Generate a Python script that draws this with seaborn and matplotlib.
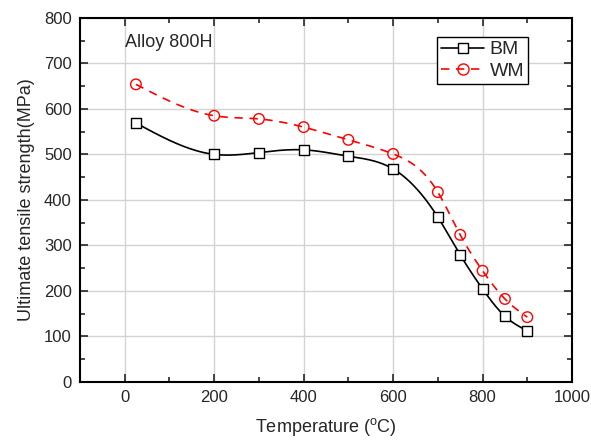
import numpy as np
import pandas as pd
import matplotlib
matplotlib.use('Agg')
import matplotlib.pyplot as plt
from matplotlib.lines import Line2D
from matplotlib.ticker import MultipleLocator
import seaborn as sns

# values
temp = [25, 200, 300, 400, 500, 600, 700, 750, 800, 850, 900]
uts_bm = [569, 500, 504, 510, 496, 468, 362, 279, 204, 144, 112]
uts_wm = [654, 585, 578, 560, 532, 501, 417, 323, 244, 182, 142]


def natural_spline(x, y, n=400):
    # natural cubic spline through the measured points (Origin "spline" connect)
    x = np.asarray(x, float)
    y = np.asarray(y, float)
    h = np.diff(x)
    m = len(x)
    A = np.zeros((m, m))
    r = np.zeros(m)
    A[0, 0] = A[-1, -1] = 1
    for i in range(1, m - 1):
        A[i, i - 1] = h[i - 1]
        A[i, i] = 2 * (h[i - 1] + h[i])
        A[i, i + 1] = h[i]
        r[i] = 6 * ((y[i + 1] - y[i]) / h[i] - (y[i] - y[i - 1]) / h[i - 1])
    M = np.linalg.solve(A, r)
    xs = np.linspace(x[0], x[-1], n)
    k = np.clip(np.searchsorted(x, xs) - 1, 0, m - 2)
    t0 = x[k + 1] - xs
    t1 = xs - x[k]
    hk = h[k]
    ys = (M[k] * t0 ** 3 + M[k + 1] * t1 ** 3) / (6 * hk) \
        + (y[k] / hk - M[k] * hk / 6) * t0 + (y[k + 1] / hk - M[k + 1] * hk / 6) * t1
    return xs, ys


sns.set_style('ticks')
plt.rcParams['font.family'] = ['Liberation Sans', 'DejaVu Sans']
plt.rcParams['mathtext.fontset'] = 'custom'
plt.rcParams['mathtext.rm'] = 'Liberation Sans'

fig = plt.figure(figsize=(5.91, 4.42), dpi=100)
ax = fig.add_axes([0.1354, 0.1364, 0.8325, 0.8229])

xs, ys = natural_spline(temp, uts_bm)
sns.lineplot(x=xs, y=ys, ax=ax, color='black', lw=1.2, sort=False, estimator=None, zorder=3)
xs, ys = natural_spline(temp, uts_wm)
sns.lineplot(x=xs, y=ys, ax=ax, color='red', lw=1.2, sort=False, estimator=None,
             dashes=False, linestyle=(0, (5, 4)), zorder=2)

sns.scatterplot(x=temp, y=uts_bm, ax=ax, marker='s', s=50, color='white',
                edgecolor='black', linewidth=1, zorder=4)
sns.scatterplot(x=temp, y=uts_wm, ax=ax, marker='o', s=58, facecolor='none',
                edgecolor='red', linewidth=1, zorder=4)

ax.set_xlim(-100, 1000)
ax.set_ylim(0, 800)
ax.xaxis.set_major_locator(MultipleLocator(200))
ax.xaxis.set_minor_locator(MultipleLocator(100))
ax.yaxis.set_major_locator(MultipleLocator(100))
ax.yaxis.set_minor_locator(MultipleLocator(50))
ax.grid(True, which='major', color='#d3d3d3', lw=1)
ax.set_axisbelow(True)
ax.tick_params(which='both', direction='in', top=True, right=True, labelsize=12, width=1.2)
ax.tick_params(which='major', length=6, pad=6)
ax.tick_params(which='minor', length=3.5)
for s in ax.spines.values():
    s.set_linewidth(1.5)
    s.set_color('black')

ax.set_xlabel('Temperature ($^\\mathrm{o}$C)', fontsize=13, labelpad=8)
ax.set_ylabel('Ultimate tensile strength(MPa)', fontsize=13, labelpad=6)
ax.text(0, 745, 'Alloy 800H', fontsize=13, va='center', ha='left')

handles = [
    Line2D([], [], color='black', lw=1.2, marker='s', ms=7, mfc='white', mec='black'),
    Line2D([], [], color='red', lw=1.2, ls=(0, (5, 4)), marker='o', ms=8, mfc='none', mec='red'),
]
leg = ax.legend(handles, ['BM', 'WM'], loc='upper right', bbox_to_anchor=(0.911, 0.948),
                borderaxespad=0, fontsize=14, fancybox=False, framealpha=1,
                edgecolor='black', handlelength=2.2, handletextpad=0.3,
                borderpad=0.2, labelspacing=0.2)
leg.get_frame().set_linewidth(1)

fig.savefig('out.png', dpi=100)
